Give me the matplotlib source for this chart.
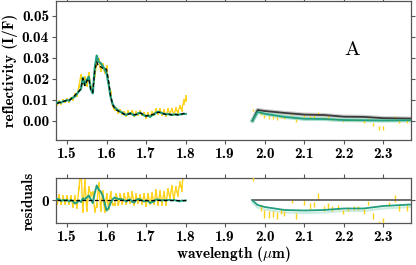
import numpy as np
import matplotlib
matplotlib.use("Agg")
import matplotlib.pyplot as plt

plt.rcParams['font.family'] = ['cmb10', 'DejaVu Serif']
plt.rcParams['mathtext.fontset'] = 'cm'
plt.rcParams['axes.unicode_minus'] = False

# H band spectrum (left segment)
wl_h = [1.475, 1.480, 1.485, 1.490, 1.495, 1.500, 1.505, 1.510, 1.515, 1.520,
        1.525, 1.530, 1.535, 1.540, 1.545, 1.550, 1.555, 1.560, 1.565, 1.570,
        1.575, 1.580, 1.585, 1.590, 1.595, 1.600, 1.605, 1.610, 1.615, 1.620,
        1.625, 1.630, 1.635, 1.640, 1.645, 1.650, 1.655, 1.660, 1.665, 1.670,
        1.675, 1.680, 1.685, 1.690, 1.695, 1.700, 1.705, 1.710, 1.715, 1.720,
        1.725, 1.730, 1.735, 1.740, 1.745, 1.750, 1.755, 1.760, 1.765, 1.770,
        1.775, 1.780, 1.785, 1.790, 1.795, 1.800]
refl_h = [0.0075, 0.0095, 0.0080, 0.0098, 0.0088, 0.0105, 0.0090, 0.0110, 0.0100, 0.0128,
          0.0118, 0.0165, 0.0215, 0.0180, 0.0205, 0.0170, 0.0225, 0.0160, 0.0150, 0.0215,
          0.0270, 0.0290, 0.0240, 0.0265, 0.0230, 0.0255, 0.0175, 0.0135, 0.0070, 0.0050,
          0.0062, 0.0037, 0.0050, 0.0030, 0.0042, 0.0024, 0.0045, 0.0030, 0.0048, 0.0021,
          0.0040, 0.0027, 0.0046, 0.0026, 0.0038, 0.0012, 0.0037, 0.0016, 0.0042, 0.0026,
          0.0055, 0.0032, 0.0056, 0.0029, 0.0048, 0.0023, 0.0052, 0.0035, 0.0055, 0.0031,
          0.0055, 0.0040, 0.0065, 0.0055, 0.0090, 0.0105]
err_h = [0.0005, 0.0005, 0.0005, 0.0005, 0.0005, 0.0005, 0.0005, 0.0005, 0.0005, 0.0006,
         0.0006, 0.0007, 0.0008, 0.0008, 0.0008, 0.0008, 0.0008, 0.0008, 0.0008, 0.0008,
         0.0009, 0.0009, 0.0009, 0.0009, 0.0008, 0.0008, 0.0007, 0.0007, 0.0006, 0.0005,
         0.0005, 0.0005, 0.0005, 0.0005, 0.0005, 0.0005, 0.0005, 0.0005, 0.0005, 0.0005,
         0.0005, 0.0005, 0.0005, 0.0005, 0.0005, 0.0005, 0.0005, 0.0005, 0.0005, 0.0005,
         0.0006, 0.0006, 0.0006, 0.0006, 0.0006, 0.0006, 0.0007, 0.0007, 0.0007, 0.0007,
         0.0008, 0.0009, 0.0010, 0.0012, 0.0014, 0.0016]
model_g_h = [0.0085, 0.0088, 0.0086, 0.0092, 0.0094, 0.0098, 0.0095, 0.0104, 0.0110, 0.0115,
             0.0128, 0.0140, 0.0150, 0.0205, 0.0170, 0.0195, 0.0210, 0.0150, 0.0130, 0.0250,
             0.0310, 0.0280, 0.0275, 0.0260, 0.0245, 0.0225, 0.0175, 0.0115, 0.0080, 0.0065,
             0.0055, 0.0048, 0.0042, 0.0038, 0.0030, 0.0028, 0.0032, 0.0036, 0.0030, 0.0025,
             0.0030, 0.0035, 0.0038, 0.0032, 0.0025, 0.0022, 0.0024, 0.0018, 0.0026, 0.0030,
             0.0038, 0.0042, 0.0040, 0.0036, 0.0033, 0.0030, 0.0032, 0.0030, 0.0028, 0.0029,
             0.0030, 0.0027, 0.0030, 0.0031, 0.0033, 0.0032]
model_k_h = [0.0082, 0.0086, 0.0087, 0.0091, 0.0094, 0.0097, 0.0097, 0.0103, 0.0112, 0.0121,
             0.0132, 0.0140, 0.0153, 0.0201, 0.0167, 0.0189, 0.0200, 0.0148, 0.0135, 0.0235,
             0.0280, 0.0258, 0.0257, 0.0250, 0.0250, 0.0245, 0.0190, 0.0120, 0.0078, 0.0059,
             0.0051, 0.0045, 0.0039, 0.0036, 0.0030, 0.0030, 0.0031, 0.0034, 0.0033, 0.0029,
             0.0029, 0.0032, 0.0036, 0.0032, 0.0027, 0.0022, 0.0025, 0.0023, 0.0029, 0.0032,
             0.0036, 0.0040, 0.0039, 0.0036, 0.0032, 0.0030, 0.0031, 0.0029, 0.0028, 0.0028,
             0.0030, 0.0028, 0.0032, 0.0031, 0.0034, 0.0032]

# K band (right segment): models
wl_k_model = [1.969, 1.982, 2.000, 2.050, 2.100, 2.150, 2.200, 2.250, 2.300, 2.370]
model_d_k = [0.0000, 0.0051, 0.0046, 0.0037, 0.0029, 0.0027, 0.0019, 0.0018, 0.0012, 0.0010]
model_g_k = [0.0000, 0.0042, 0.0033, 0.0018, 0.0009, 0.0008, 0.0003, 0.0002, 0.0001, 0.0002]

# K band data points
wl_k = [1.971, 1.990, 1.998, 2.010, 2.020, 2.030, 2.040, 2.050, 2.070, 2.080,
        2.100, 2.115, 2.125, 2.135, 2.150, 2.160, 2.170, 2.185, 2.197, 2.210,
        2.225, 2.235, 2.250, 2.262, 2.275, 2.290, 2.300, 2.315, 2.330, 2.340, 2.360]
refl_k = [0.0050, 0.0034, 0.0019, 0.0016, 0.0016, 0.0011, 0.0016, 0.0011, 0.0032, 0.0002,
          0.0024, 0.0017, 0.0020, 0.0035, 0.0011, 0.0014, 0.0007, 0.0007, -0.0004, 0.0001,
          0.0004, 0.0004, -0.0004, 0.0011, -0.0017, -0.0035, -0.0033, 0.0004, 0.0016, -0.0004, -0.0004]
err_k = [0.0004, 0.0006, 0.0008, 0.0007, 0.0006, 0.0007, 0.0005, 0.0005, 0.0004, 0.0006,
         0.0005, 0.0006, 0.0005, 0.0007, 0.0005, 0.0006, 0.0005, 0.0005, 0.0004, 0.0004,
         0.0004, 0.0004, 0.0005, 0.0004, 0.0006, 0.0008, 0.0010, 0.0004, 0.0007, 0.0006, 0.0006]

yellow = '#ffd21a'
green = '#229e7e'
green_light = '#a8e0ce'
dark = '#3a3a3a'

fig = plt.figure(figsize=(4.16, 2.65), dpi=100)
ax = fig.add_axes([0.1346, 0.4717, 0.8534, 0.5245])
axr = fig.add_axes([0.1346, 0.1585, 0.8534, 0.1698])

wl_h = np.array(wl_h)
refl_h = np.array(refl_h)
model_g_h = np.array(model_g_h)
model_k_h = np.array(model_k_h)
wl_k = np.array(wl_k)
refl_k = np.array(refl_k)
model_d_k = np.array(model_d_k)
model_g_k = np.array(model_g_k)

# top panel
ax.errorbar(wl_h, refl_h, yerr=err_h, color=yellow, lw=1.0, elinewidth=1.3, zorder=2)
ax.plot(wl_h, model_g_h, color=green, lw=1.6, zorder=3)
ax.plot(wl_h, model_k_h, color='k', lw=0.9, ls=(0, (3, 2)), zorder=4)

ax.plot(wl_k_model, model_d_k, color='#cccccc', lw=3.0, zorder=2)
ax.plot(wl_k_model, model_g_k, color=green_light, lw=3.0, zorder=2)
ax.errorbar(wl_k, refl_k, yerr=err_k, fmt='none', ecolor=yellow, elinewidth=1.0, zorder=3)
ax.plot(wl_k_model, model_d_k, color=dark, lw=1.3, zorder=4)
ax.plot(wl_k_model, model_g_k, color=green, lw=1.3, zorder=4)

ax.text(2.22, 0.0337, 'A', fontsize=15, family='cmr10', ha='center', va='center')

ax.set_xlim(1.472, 2.37)
ax.set_ylim(-0.0092, 0.057)
ax.set_yticks([0.0, 0.01, 0.02, 0.03, 0.04, 0.05])
ax.set_yticklabels(['%.2f' % v for v in ax.get_yticks()])
ax.set_xticks([1.5, 1.6, 1.7, 1.8, 1.9, 2.0, 2.1, 2.2, 2.3])
ax.set_ylabel('reflectivity (I/F)', fontsize=11)
ax.yaxis.set_label_coords(-0.108, 0.5)

# residual panel: relative to the black model
res_h = refl_h - model_k_h
res_g_h = model_g_h - model_k_h
res_k = refl_k - np.interp(wl_k, wl_k_model, model_d_k)
res_g_k = model_g_k - model_d_k

axr.errorbar(wl_h, res_h, yerr=np.array(err_h) * 0.6, color=yellow, lw=1.0,
             elinewidth=1.2, zorder=2)
axr.plot(wl_h, res_g_h, color=green, lw=1.4, zorder=3)
axr.plot(wl_h, model_k_h - model_k_h, color='k', lw=0.9, ls=(0, (3, 2)), zorder=4)

axr.plot(wl_k_model, res_g_k - 0.0005, color=green_light, lw=1.5, alpha=0.6, zorder=2)
axr.errorbar(wl_k, res_k, yerr=err_k, fmt='none', ecolor=yellow, elinewidth=1.0, zorder=3)
axr.plot(wl_k_model, model_d_k - model_d_k, color='#555555', lw=1.2, zorder=4)
axr.plot(wl_k_model, res_g_k, color=green, lw=1.3, zorder=4)

axr.set_xlim(1.472, 2.37)
axr.set_ylim(-0.0045, 0.0045)
axr.set_yticks([0])
axr.set_yticklabels(['0'])
axr.set_xticks([1.5, 1.6, 1.7, 1.8, 1.9, 2.0, 2.1, 2.2, 2.3])
axr.set_ylabel('residuals', fontsize=11)
axr.yaxis.set_label_coords(-0.058, 0.5)
axr.set_xlabel(r'wavelength ($\mu$m)', fontsize=11)
axr.xaxis.set_label_coords(0.5, -0.47)

for a in (ax, axr):
    a.tick_params(direction='out', top=True, right=True, length=3, width=0.8,
                  color='#555555', labelsize=11, pad=2)
    for s in a.spines.values():
        s.set_color('#555555')
        s.set_linewidth(0.9)

fig.savefig('out.png', dpi=100)
